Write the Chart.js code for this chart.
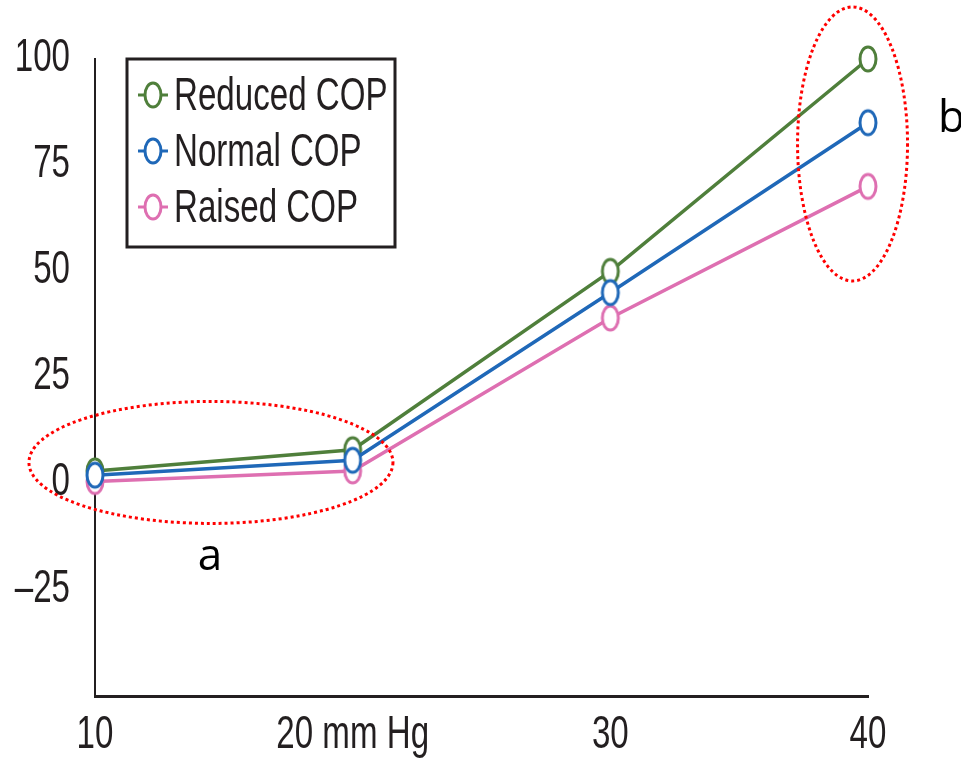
<!DOCTYPE html>
<html lang="en">
<head>
<meta charset="utf-8">
<style>
  html, body { margin: 0; padding: 0; background: #fff; }
  #wrap { position: relative; width: 961px; height: 760px; }
</style>
</head>
<body>
<div id="wrap"><canvas id="myChart"></canvas></div>
<script src="https://cdn.jsdelivr.net/npm/chart.js"></script>
<script>
// values
const pressures = [10, 20, 30, 40];
const xTickText = ['10', '20 mm Hg', '30', '40'];
const yTickValues = [-50, -25, 0, 25, 50, 75, 100];
const reducedCOP = [3, 8, 50, 100];
const normalCOP = [2, 5.5, 45, 85];
const raisedCOP = [0.5, 3, 39, 70];
const seriesNames = ['Reduced COP', 'Normal COP', 'Raised COP'];
const seriesColors = ['#4F7F3B', '#1F68B8', '#DE6FB1'];
const drawOrder = [1, 0, 2]; // lower = drawn later (on top): blue over green over pink

const ink = '#231f20';
const sans = '"Liberation Sans", Arial, sans-serif';
const squeeze = 0.72; // the original type is a condensed face

// open, slightly tall circle marker
function marker(color) {
  const c = document.createElement('canvas');
  c.width = 22; c.height = 30;
  const g = c.getContext('2d');
  g.beginPath();
  g.ellipse(11, 15, 8, 12, 0, 0, Math.PI * 2);
  g.fillStyle = '#fff';
  g.fill();
  g.lineWidth = 3;
  g.strokeStyle = color;
  g.stroke();
  return c;
}

function narrowText(ctx, txt, x, y, align) {
  ctx.save();
  ctx.translate(x, y);
  ctx.scale(squeeze, 1);
  ctx.textAlign = align;
  ctx.fillText(txt, 0, 0);
  ctx.restore();
}

function toPoints(vals) {
  return pressures.map((p, i) => ({ x: p, y: vals[i] }));
}

const allSeries = [reducedCOP, normalCOP, raisedCOP];
const datasets = allSeries.map((vals, i) => ({
  label: seriesNames[i],
  data: toPoints(vals),
  borderColor: seriesColors[i],
  backgroundColor: seriesColors[i],
  borderWidth: 3.5,
  pointStyle: marker(seriesColors[i]),
  pointRadius: 10,
  tension: 0,
  order: drawOrder[i],
  clip: false
}));

const overlay = {
  id: 'overlay',
  afterDatasetsDraw(chart) {
    const ctx = chart.ctx;
    const a = chart.chartArea;
    const xs = chart.scales.x, ys = chart.scales.y;
    ctx.save();

    // tick labels, squeezed
    ctx.fillStyle = ink;
    ctx.font = '46px ' + sans;
    ctx.textBaseline = 'middle';
    ys.ticks.forEach(t => {
      if (t.label) narrowText(ctx, t.label, a.left - 25, ys.getPixelForValue(t.value) - 1, 'right');
    });
    xs.ticks.forEach(t => {
      narrowText(ctx, t.label, xs.getPixelForValue(t.value), a.bottom + 39, 'center');
    });

    // legend box
    const lx = a.left + 32, ly = a.top, lw = 268, lh = 188;
    ctx.fillStyle = '#fff';
    ctx.fillRect(lx, ly, lw, lh);
    ctx.lineWidth = 3;
    ctx.strokeStyle = ink;
    ctx.strokeRect(lx, ly, lw, lh);
    seriesNames.forEach((name, i) => {
      const cy = ly + 36 + i * 56;
      ctx.strokeStyle = seriesColors[i];
      ctx.lineWidth = 3;
      ctx.beginPath();
      ctx.moveTo(lx + 11, cy);
      ctx.lineTo(lx + 41, cy);
      ctx.stroke();
      const m = marker(seriesColors[i]);
      ctx.drawImage(m, lx + 26 - m.width / 2, cy - m.height / 2);
      ctx.fillStyle = ink;
      ctx.font = '46px ' + sans;
      ctx.textBaseline = 'middle';
      narrowText(ctx, name, lx + 47, cy + 2, 'left');
    });

    // dotted red ellipses
    ctx.strokeStyle = '#FF0000';
    ctx.lineWidth = 3;
    ctx.setLineDash([3, 3]);
    ctx.beginPath();
    ctx.ellipse(xs.getPixelForValue(14.5), ys.getPixelForValue(5), 182, 61, 0, 0, Math.PI * 2);
    ctx.stroke();
    ctx.beginPath();
    ctx.ellipse(xs.getPixelForValue(39.4), ys.getPixelForValue(80), 55, 137, 0, 0, Math.PI * 2);
    ctx.stroke();
    ctx.setLineDash([]);

    // a / b labels
    ctx.fillStyle = '#000';
    ctx.font = '44px "Open Sans", "DejaVu Sans", sans-serif';
    ctx.textBaseline = 'alphabetic';
    ctx.textAlign = 'center';
    ctx.fillText('a', 210, 570);
    ctx.textAlign = 'left';
    ctx.fillText('b', 938, 132);
    ctx.restore();
  }
};

const config = {
  type: 'line',
  data: { datasets: datasets },
  options: {
    responsive: false,
    animation: false,
    layout: { autoPadding: false, padding: { top: 59, right: 93, left: 0, bottom: 0 } },
    plugins: { legend: { display: false }, tooltip: { enabled: false } },
    scales: {
      x: {
        type: 'linear',
        min: 10, max: 40,
        afterBuildTicks: s => { s.ticks = pressures.map(v => ({ value: v })); },
        afterFit: s => { s.height = 64; },
        grid: { display: false },
        border: { display: true, color: ink, width: 3 },
        ticks: {
          padding: 18,
          color: 'rgba(0,0,0,0)',
          font: { family: sans, size: 30 },
          maxRotation: 0,
          callback: v => xTickText[pressures.indexOf(v)]
        }
      },
      y: {
        min: -50, max: 100,
        afterBuildTicks: s => { s.ticks = yTickValues.map(v => ({ value: v })); },
        afterFit: s => { s.width = 95; },
        grid: { display: false },
        border: { display: true, color: ink, width: 2 },
        ticks: {
          padding: 25,
          color: 'rgba(0,0,0,0)',
          font: { family: sans, size: 30 },
          callback: v => v === -50 ? '' : (v < 0 ? '\u2013' + Math.abs(v) : String(v))
        }
      }
    }
  },
  plugins: [overlay]
};

const cv = document.getElementById('myChart');
cv.width = 961; cv.height = 760;
const myChart = new Chart(cv, config);
</script>
</body>
</html>
